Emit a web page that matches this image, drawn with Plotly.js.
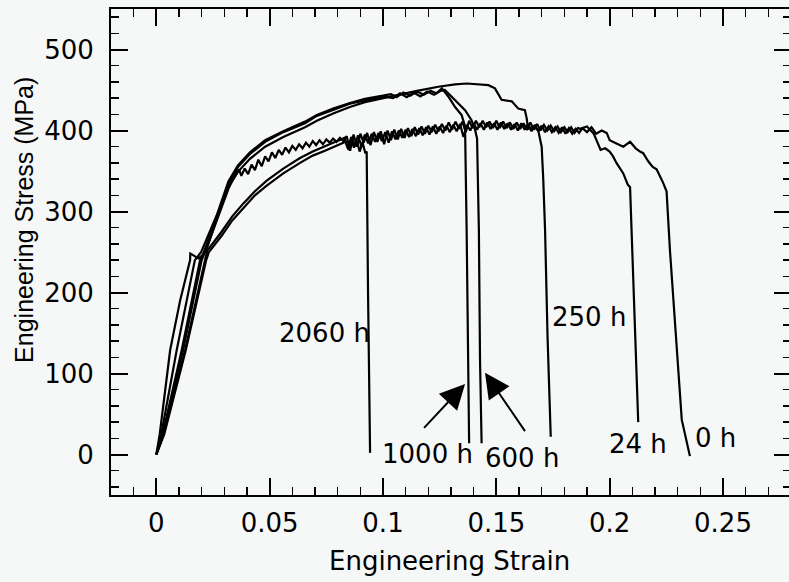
<!DOCTYPE html>
<html>
<head>
<meta charset="utf-8">
<script src="https://cdn.plot.ly/plotly-3.0.1.min.js"></script>
<style>
html, body { margin: 0; padding: 0; overflow: hidden; background: #f6f7f7; }
#chart { width: 793px; height: 582px; }
</style>
</head>
<body>
<div id="chart"></div>
<script>
// ---- Data (engineering strain, engineering stress in MPa) ----
const strain_0h = [0, 0.0032, 0.0127, 0.017, 0.0215, 0.0225, 0.0288, 0.0335, 0.0384, 0.0435, 0.0487, 0.056, 0.0634, 0.069, 0.0744, 0.078, 0.0815, 0.083,
  0.0845, 0.086, 0.0875, 0.089, 0.0905, 0.092, 0.0935, 0.095, 0.0965, 0.098, 0.0995, 0.101, 0.1025, 0.104, 0.1055, 0.107, 0.1085, 0.110, 0.1115, 0.113, 0.1145,
  0.116, 0.1175, 0.119, 0.1205, 0.122, 0.1235, 0.125, 0.1265, 0.128, 0.1295, 0.131, 0.1325, 0.134, 0.1355, 0.137, 0.1385, 0.140, 0.1415, 0.143, 0.1445,
  0.146, 0.1475, 0.149, 0.1505, 0.152, 0.1535, 0.155, 0.1565, 0.158, 0.1595, 0.161, 0.1625, 0.164, 0.1655, 0.167, 0.1685, 0.170, 0.1715, 0.173, 0.1745,
  0.176, 0.1775, 0.179, 0.1805, 0.182, 0.1835, 0.185, 0.1865, 0.188, 0.190, 0.192, 0.194, 0.1965, 0.1987, 0.200, 0.203, 0.206, 0.209, 0.2115, 0.2134,
  0.2148, 0.217, 0.219, 0.2207, 0.222, 0.2235, 0.2251, 0.2266, 0.2318, 0.2354];
const stress_0h = [0, 25, 129, 185, 240, 252, 275, 294, 310, 325, 338, 353, 366, 374, 381, 385, 389, 391,
  378, 392, 381, 394, 380, 395, 384, 396, 386, 397, 387, 398, 385, 399, 389, 400, 391, 401, 392, 402, 393,
  403, 394, 404, 395, 405, 396, 405, 397, 406, 398, 407, 399, 408, 392, 407, 400, 409, 401, 409, 401,
  410, 402, 409, 401, 410, 402, 409, 401, 408, 400, 409, 401, 408, 399, 407, 399, 406, 398, 405, 398,
  404, 397, 404, 396, 403, 396, 402, 397, 403, 398, 404, 396, 400, 397, 388, 384, 380, 386, 378, 374,
  372, 362, 355, 352, 345, 336, 325, 252, 43, -2];

const strain_24h = [0, 0.003, 0.0118, 0.016, 0.020, 0.0215, 0.0266, 0.0318, 0.035, 0.0365,
  0.0375, 0.039, 0.0405, 0.042, 0.0435, 0.045, 0.0465, 0.048, 0.0495, 0.051, 0.0525, 0.054, 0.0555, 0.057, 0.0585, 0.060, 0.0615, 0.063, 0.0645,
  0.066, 0.0675, 0.069, 0.0705, 0.072, 0.0735, 0.075, 0.0765, 0.078, 0.0795, 0.081, 0.0825, 0.084, 0.0855, 0.087, 0.0885, 0.090, 0.0915, 0.093, 0.0945,
  0.096, 0.0975, 0.099, 0.1005, 0.102, 0.1035, 0.105, 0.1065, 0.108, 0.1095, 0.111, 0.1125, 0.114, 0.1155, 0.117, 0.1185, 0.120, 0.1215, 0.123, 0.1245,
  0.126, 0.1275, 0.129, 0.1305, 0.132, 0.1335, 0.135, 0.1365, 0.138, 0.1395, 0.141, 0.1425, 0.144, 0.1455, 0.147, 0.1485, 0.150, 0.1515, 0.153, 0.1545,
  0.156, 0.1575, 0.159, 0.1605, 0.162, 0.1635, 0.165, 0.1665, 0.168, 0.1695, 0.171, 0.1725, 0.174, 0.1755, 0.177, 0.1785, 0.180, 0.1815, 0.183, 0.1845,
  0.186, 0.187, 0.190, 0.193, 0.1945, 0.196, 0.198, 0.200, 0.2015, 0.203, 0.206, 0.208, 0.209, 0.2097, 0.2126];
const stress_24h = [0, 25, 129, 185, 240, 250, 288, 328, 347, 352,
  344, 353, 346, 358, 351, 364, 356, 368, 362, 373, 366, 376, 370, 379, 373, 381, 376, 383, 378,
  385, 380, 387, 382, 388, 383, 389, 385, 390, 386, 391, 387, 393, 375, 395, 380, 396, 385, 397, 382,
  398, 386, 399, 383, 400, 388, 401, 389, 402, 391, 403, 393, 404, 395, 405, 396, 406, 398, 407, 399,
  408, 400, 410, 401, 411, 402, 411, 398, 412, 403, 412, 404, 412, 404, 411, 403, 412, 403, 411, 403,
  410, 402, 410, 402, 409, 401, 410, 401, 408, 400, 407, 400, 406, 399, 405, 398, 404, 398, 404, 397,
  403, 402, 405, 396, 385, 376, 378, 374, 368, 360, 347, 333, 330, 277, 40];

const strain_250h = [0, 0.0015, 0.0061, 0.0105, 0.0149, 0.015, 0.0157, 0.0185, 0.0205, 0.0222, 0.0266, 0.0318, 0.036, 0.0413, 0.048, 0.056, 0.0656,
  0.0708, 0.078, 0.0854, 0.092, 0.100, 0.1067, 0.115, 0.1244, 0.1318, 0.137, 0.1465, 0.1494, 0.1523, 0.1568, 0.1597, 0.1626, 0.1634, 0.164, 0.1665,
  0.1685, 0.170, 0.1707, 0.1715, 0.1726, 0.174];
const stress_250h = [0, 25, 129, 190, 240, 248, 247, 242, 246, 254, 290, 330, 349, 365, 380, 392, 404,
  412, 421, 429, 435, 440, 444, 449, 454, 457, 458, 456, 452, 438, 436, 427, 425, 415, 402, 405,
  400, 380, 340, 277, 145, 22];

const strain_600h = [0, 0.0028, 0.0112, 0.0153, 0.0193, 0.021, 0.0266, 0.0318, 0.036, 0.0413, 0.048, 0.056, 0.0656, 0.0708, 0.078, 0.0854, 0.092,
  0.100, 0.1045, 0.1075, 0.1105, 0.1135, 0.1165, 0.1195, 0.1225, 0.1255, 0.1273, 0.1302, 0.1332, 0.1362, 0.139, 0.1406, 0.1415, 0.1423, 0.1428, 0.1435];
const stress_600h = [0, 25, 129, 185, 240, 250, 292, 334, 355, 371, 386, 398, 409, 418, 425, 433, 437,
  442, 440, 446, 441, 447, 442, 448, 444, 449, 450, 442, 434, 425, 413, 401, 390, 277, 117, 14];

const strain_1000h = [0, 0.0022, 0.009, 0.013, 0.017, 0.0198, 0.0266, 0.0318, 0.036, 0.0413, 0.048, 0.056, 0.0656, 0.0708, 0.078, 0.0854, 0.092,
  0.100, 0.1035, 0.106, 0.109, 0.112, 0.115, 0.118, 0.121, 0.1235, 0.126, 0.1288, 0.1318, 0.1347, 0.1362, 0.1369, 0.138];
const stress_1000h = [0, 25, 129, 185, 240, 250, 295, 337, 357, 373, 388, 399, 411, 419, 427, 434, 439,
  443, 445, 441, 447, 443, 448, 444, 449, 446, 452, 442, 429, 419, 405, 277, 14];

const strain_2060h = [0, 0.0035, 0.013, 0.0175, 0.022, 0.0232, 0.0288, 0.0335, 0.0384, 0.0435, 0.0487, 0.056, 0.0634, 0.069, 0.0744, 0.078, 0.0815,
  0.0835, 0.0848, 0.086, 0.0872, 0.0885, 0.0897, 0.091, 0.0922, 0.0928, 0.0934, 0.0943];
const stress_2060h = [0, 25, 129, 185, 240, 250, 270, 289, 304, 320, 332, 347, 360, 369, 375, 379, 383,
  386, 376, 388, 379, 387, 374, 385, 372, 374, 200, 2];

// Curve labels (text, strain, stress)
const labelText   = ["2060 h", "1000 h", "600 h", "250 h", "24 h", "0 h"];
const labelStrain = [0.0744, 0.1198, 0.1613, 0.1908, 0.2123, 0.2469];
const labelStress = [150, 1, -4, 170, 13, 20];

// Arrows pointing to the 1000 h and 600 h fracture lines: [tailStrain, tailStress, headStrain, headStress]
const arrow1000 = [0.1175, 31, 0.1362, 87];
const arrow600  = [0.1631, 27, 0.1450, 101];

// Axis ticks
const xTickVals = [0, 0.05, 0.1, 0.15, 0.2, 0.25];
const xTickText = ["0", "0.05", "0.1", "0.15", "0.2", "0.25"];
const yTickVals = [0, 100, 200, 300, 400, 500];
const yTickText = ["0", "100", "200", "300", "400", "500"];

const series = [
  [strain_0h, stress_0h, "0 h"],
  [strain_24h, stress_24h, "24 h"],
  [strain_250h, stress_250h, "250 h"],
  [strain_600h, stress_600h, "600 h"],
  [strain_1000h, stress_1000h, "1000 h"],
  [strain_2060h, stress_2060h, "2060 h"]
];

const traces = series.map(s => ({
  x: s[0], y: s[1], name: s[2], type: "scatter", mode: "lines",
  line: { color: "#000", width: 2.2 }, hoverinfo: "skip"
}));

const hFont = { family: "DejaVu Sans, Liberation Sans, Arial, sans-serif", size: 26, color: "#000" };

const annotations = labelText.map((t, i) => ({
  text: t, x: labelStrain[i], y: labelStress[i], xref: "x", yref: "y",
  showarrow: false, font: hFont, xanchor: "center", yanchor: "middle"
}));

[arrow1000, arrow600].forEach(a => {
  annotations.push({
    text: "", x: a[2], y: a[3], ax: a[0], ay: a[1], xref: "x", yref: "y", axref: "x", ayref: "y",
    showarrow: true, arrowhead: 2, arrowsize: 2.5, arrowwidth: 2, arrowcolor: "#000"
  });
});

// axis titles
annotations.push({
  text: "Engineering Strain", xref: "paper", yref: "paper", x: 0.4985, y: -0.135,
  xanchor: "center", yanchor: "middle", showarrow: false, font: hFont
});
annotations.push({
  text: "Engineering Stress (MPa)", xref: "paper", yref: "paper", x: -0.128, y: 0.566,
  xanchor: "center", yanchor: "middle", showarrow: false, textangle: -90,
  font: { family: "Liberation Sans, Arial, sans-serif", size: 25, color: "#000" }
});

const axisCommon = {
  showgrid: false, zeroline: false, showline: true, linecolor: "#000", linewidth: 2,
  mirror: "allticks", ticks: "inside", ticklen: 17, tickwidth: 2, tickcolor: "#000",
  tickfont: hFont, tickmode: "array"
};

const layout = {
  width: 793, height: 582,
  margin: { l: 111, r: 2, t: 9, b: 87 },
  paper_bgcolor: "#f6f7f7", plot_bgcolor: "#f6f7f7",
  showlegend: false,
  xaxis: Object.assign({}, axisCommon, {
    range: [-0.02, 0.28], tickvals: xTickVals, ticktext: xTickText, ticklabelstandoff: 4,
    minor: { dtick: 0.01, tick0: 0, ticks: "inside", ticklen: 8, tickwidth: 1.5, tickcolor: "#000" }
  }),
  yaxis: Object.assign({}, axisCommon, {
    range: [-50, 550], tickvals: yTickVals, ticktext: yTickText, ticklabelstandoff: 10,
    minor: { dtick: 20, tick0: 0, ticks: "inside", ticklen: 8, tickwidth: 1.5, tickcolor: "#000" }
  }),
  annotations: annotations
};

Plotly.newPlot("chart", traces, layout, { staticPlot: true, displayModeBar: false });
</script>
</body>
</html>
